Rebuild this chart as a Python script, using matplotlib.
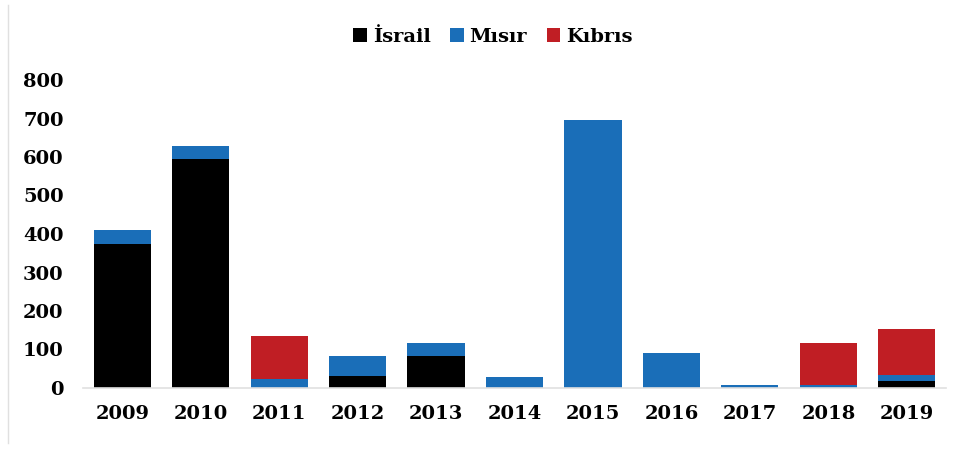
import matplotlib
matplotlib.use("Agg")
import matplotlib.pyplot as plt
from matplotlib.patches import Patch
from matplotlib.lines import Line2D
import numpy as np

years = ["2009", "2010", "2011", "2012", "2013", "2014", "2015", "2016", "2017", "2018", "2019"]
israel = [374, 595, 0, 32, 83, 0, 0, 0, 0, 0, 17]
misir = [36, 33, 24, 51, 35, 28, 696, 92, 8, 8, 17]
kibris = [0, 0, 111, 0, 0, 0, 0, 0, 0, 110, 118]
series_names = ["İsrail", "Mısır", "Kıbrıs"]
colors = ["#000000", "#1a6eb8", "#c01e24"]
yticks = [0, 100, 200, 300, 400, 500, 600, 700, 800]

plt.rcParams['font.family'] = ['DejaVu Serif']
plt.rcParams['font.weight'] = 'bold'

W, H = 957, 476
fig = plt.figure(figsize=(W / 100, H / 100), dpi=100)
fig.patch.set_facecolor("white")
ax = fig.add_axes([83 / W, 1 - 388 / H, (946 - 83) / W, (388 - 80) / H])

x = np.arange(len(years))
width = 0.73
bottom = np.zeros(len(years))
for vals, c in zip([israel, misir, kibris], colors):
    ax.bar(x, vals, width, bottom=bottom, color=c, linewidth=0)
    bottom += np.array(vals)

ax.set_xlim(-0.5, len(years) - 0.5)
ax.set_ylim(0, 800)
ax.set_yticks(yticks)
ax.set_yticklabels([str(v) for v in yticks], fontsize=14, fontweight='bold')
ax.set_xticks(x)
ax.set_xticklabels(years, fontsize=14, fontweight='bold')
ax.tick_params(axis='y', length=0, pad=14)
ax.tick_params(axis='x', length=0, pad=12)
for s in ['top', 'right', 'left']:
    ax.spines[s].set_visible(False)
ax.spines['bottom'].set_color('#e0e0e0')
ax.spines['bottom'].set_linewidth(1.2)

handles = [Patch(facecolor=c, edgecolor='none') for c in colors]
fig.legend(handles, series_names, loc='center', bbox_to_anchor=(493 / W, 1 - 37 / H),
           ncol=3, frameon=False, prop={'size': 14, 'weight': 'bold'},
           handlelength=0.7, handleheight=0.7, handletextpad=0.3, columnspacing=1.0)

fig.add_artist(Line2D([8 / W, 8 / W], [1 - 443 / H, 1 - 5 / H], transform=fig.transFigure,
                      color='#e0e0e0', linewidth=1))

fig.savefig("out.png", dpi=100)
